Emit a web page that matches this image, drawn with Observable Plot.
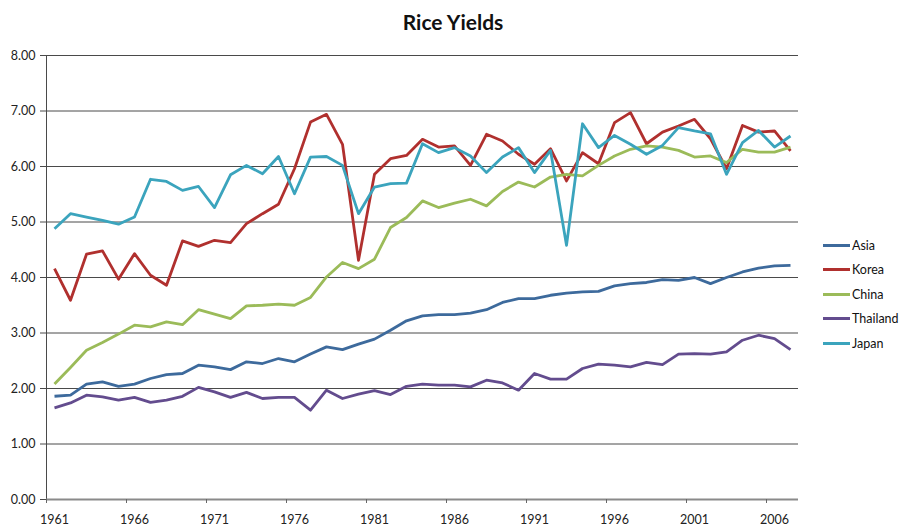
<!DOCTYPE html>
<html>
<head>
<meta charset="utf-8">
<script src="https://cdn.jsdelivr.net/npm/d3@7"></script>
<script src="https://cdn.jsdelivr.net/npm/@observablehq/plot@0.6"></script>
<style>
  body { margin: 0; background: #fff; font-family: Lato, "Open Sans", sans-serif; }
  #wrap { position: relative; width: 900px; height: 528px; overflow: hidden; }
  #title { height: 40px; line-height: 44px; text-align: center; font-weight: bold; font-size: 21px; color: #111; padding-left: 6px; box-sizing: border-box; }
  #legend { position: absolute; left: 823px; top: 233px; font-size: 12.5px; color: #111; }
  .item { height: 24.5px; display: flex; align-items: center; }
  .sw { width: 27px; height: 3px; margin-right: 2px; }
</style>
</head>
<body>
<div id="wrap">
  <div id="title">Rice Yields</div>
  <div id="chart"></div>
  <div id="legend"></div>
</div>
<script>
const years = d3.range(1961, 2008);
const seriesNames = ["Asia", "Korea", "China", "Thailand", "Japan"];
const colors = ["#3d6a9c", "#b0302e", "#9bbb59", "#634c8e", "#3ba4bd"];
const asia = [1.86,1.88,2.08,2.12,2.04,2.08,2.18,2.25,2.27,2.42,2.39,2.34,2.48,2.45,2.54,2.48,2.62,2.75,2.70,2.80,2.89,3.05,3.22,3.31,3.33,3.33,3.36,3.42,3.55,3.62,3.62,3.68,3.72,3.74,3.75,3.85,3.89,3.91,3.96,3.95,4.00,3.89,4.00,4.10,4.17,4.21,4.22];
const korea = [4.16,3.59,4.42,4.48,3.97,4.43,4.04,3.86,4.66,4.56,4.67,4.63,4.97,5.15,5.32,5.96,6.80,6.94,6.40,4.31,5.86,6.14,6.20,6.49,6.35,6.37,6.02,6.58,6.46,6.22,6.04,6.32,5.74,6.25,6.05,6.79,6.97,6.41,6.62,6.73,6.85,6.50,5.96,6.74,6.62,6.64,6.28];
const china = [2.08,2.38,2.69,2.83,2.98,3.14,3.11,3.20,3.15,3.42,3.34,3.26,3.49,3.50,3.52,3.50,3.64,4.01,4.27,4.16,4.33,4.90,5.08,5.38,5.26,5.34,5.41,5.29,5.55,5.72,5.63,5.81,5.86,5.83,6.02,6.19,6.31,6.37,6.35,6.29,6.17,6.19,6.07,6.31,6.26,6.26,6.35];
const thailand = [1.65,1.74,1.88,1.85,1.79,1.84,1.75,1.79,1.86,2.02,1.94,1.84,1.93,1.82,1.84,1.84,1.61,1.97,1.82,1.90,1.96,1.89,2.04,2.08,2.06,2.06,2.03,2.15,2.10,1.97,2.27,2.17,2.17,2.36,2.44,2.42,2.39,2.47,2.43,2.62,2.63,2.62,2.66,2.87,2.96,2.90,2.70];
const japan = [4.88,5.15,5.09,5.03,4.96,5.09,5.77,5.73,5.57,5.64,5.26,5.85,6.02,5.87,6.18,5.51,6.17,6.18,6.02,5.15,5.63,5.69,5.70,6.41,6.25,6.34,6.19,5.89,6.17,6.34,5.89,6.29,4.58,6.77,6.34,6.56,6.40,6.22,6.38,6.70,6.64,6.59,5.86,6.43,6.65,6.35,6.55];
const xTickYears = [1961, 1966, 1971, 1976, 1981, 1986, 1991, 1996, 2001, 2006];
const yTicks = [0, 1, 2, 3, 4, 5, 6, 7, 8];

const valuesBySeries = [asia, korea, china, thailand, japan];
const data = [];
seriesNames.forEach((name, i) => {
  valuesBySeries[i].forEach((v, j) => data.push({series: name, year: years[j], value: v}));
});

const chart = Plot.plot({
  width: 900,
  height: 488,
  marginTop: 15,
  marginBottom: 29,
  marginLeft: 46,
  marginRight: 102,
  style: {fontFamily: "Lato, 'Open Sans', sans-serif", fontSize: "12px", color: "#222", background: "#fff"},
  x: {domain: [years[0] - 0.5, years[years.length - 1] + 0.5], axis: null, label: null},
  y: {domain: [0, 8], axis: null, label: null},
  color: {domain: seriesNames, range: colors},
  marks: [
    Plot.gridY(yTicks.filter(d => d > 0), {stroke: "#4a4a4a", strokeOpacity: 1, strokeWidth: 1}),
    Plot.frame({anchor: "left", stroke: "#4a4a4a"}),
    Plot.axisY({ticks: yTicks, label: null, tickFormat: d => d.toFixed(2), tickSize: 6, tickPadding: 5, stroke: "#4a4a4a", fontSize: 12.5, fill: "#222"}),
    Plot.ruleY([0], {stroke: "#8a8a8a", strokeWidth: 2}),
    Plot.axisX({ticks: xTickYears.map(d => d - 0.5), label: null, tickFormat: () => "", tickSize: 4, stroke: "#666"}),
    Plot.axisX({ticks: xTickYears, label: null, tickFormat: d => String(d), tickSize: 0, tickPadding: 16, fontSize: 12.5, fill: "#222"}),
    Plot.lineY(data, {x: "year", y: "value", stroke: "series", z: "series", strokeWidth: 2.8, strokeLinejoin: "round", strokeLinecap: "butt"})
  ]
});
document.getElementById("chart").appendChild(chart);

const legend = document.getElementById("legend");
seriesNames.forEach((name, i) => {
  const item = document.createElement("div");
  item.className = "item";
  const sw = document.createElement("div");
  sw.className = "sw";
  sw.style.background = colors[i];
  const label = document.createElement("span");
  label.textContent = name;
  item.appendChild(sw);
  item.appendChild(label);
  legend.appendChild(item);
});
</script>
</body>
</html>
